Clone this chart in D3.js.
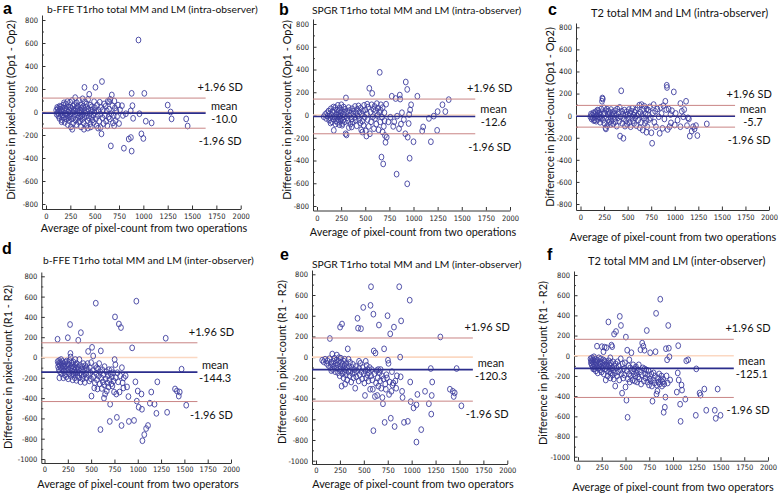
<!DOCTYPE html>
<html><head><meta charset="utf-8">
<script src="https://cdn.jsdelivr.net/npm/d3@7"></script>
<style>body{margin:0;background:#fff}svg{display:block}</style>
</head><body>
<svg id="chart" width="778" height="494"></svg>
<script>
// ---------------- DATA ----------------
const panelLetters = ["a","b","c","d","e","f"];
const panelTitles = [
  "b-FFE T1rho total MM and LM (intra-observer)",
  "SPGR T1rho total MM and LM (intra-observer)",
  "T2 total MM and LM (intra-observer)",
  "b-FFE T1rho total MM and LM (inter-observer)",
  "SPGR T1rho total MM and LM (inter-observer)",
  "T2 total MM and LM (inter-observer)"
];
const yAxisTitles = [
  "Difference in pixel-count (Op1 - Op2)","Difference in pixel-count (Op1 - Op2)","Difference in pixel-count (Op1 - Op2)",
  "Difference in pixel-count (R1 - R2)","Difference in pixel-count (R1 - R2)","Difference in pixel-count (R1 - R2)"
];
const xAxisTitles = [
  "Average of pixel-count from two operations","Average of pixel-count from two operations","Average of pixel-count from two operations",
  "Average of pixel-count from two operators","Average of pixel-count from two operators","Average of pixel-count from two operators"
];
const xTickValues = [0,250,500,750,1000,1250,1500,1750,2000];
const yTickIntra = [-800,-600,-400,-200,0,200,400,600,800];
const yTickInter = [-1000,-800,-600,-400,-200,0,200,400,600,800];
const meanDiff = [-10.0,-12.6,-5.7,-144.3,-120.3,-125.1];
const upperLoA = [121,140,93,145,185,163];
const lowerLoA = [-141,-165,-104,-434,-425,-413];
const loaLabelUpper = "+1.96 SD", loaLabelLower = "-1.96 SD", meanLabel = "mean";

const ptsA = [[105,15],[110,-20],[115,40],[118,-5],[122,30],[128,-35],[132,10],[138,-55],[142,25],[147,-15],[152,45],[156,-40],[160,5],[165,-70],[170,30],[174,-25],[178,60],[183,-50],[188,10],[192,-90],[196,35],[200,-10],[185,80],[160,-85],[140,50],
[204,70],[208,-60],[212,20],[216,-30],[220,90],[224,-110],[228,0],[232,45],[236,-75],[240,15],[244,-45],[248,85],[252,-20],[256,-130],[260,30],[264,-60],[268,100],[272,-5],[276,50],[280,-95],[284,20],[288,-40],[292,65],[296,-15],[300,125],[210,-20],[230,-50],[250,40],[270,-150],[290,5],
[304,-70],[308,30],[312,-110],[316,80],[320,-25],[324,10],[328,-55],[332,45],[336,-85],[340,100],[344,-10],[348,20],[352,-40],[356,60],[360,-130],[364,0],[368,35],[372,-65],[376,115],[380,-20],[384,50],[388,-95],[392,15],[396,-45],[400,90],[320,50],[350,-80],[370,-30],[390,-150],[395,214],
[404,-10],[408,40],[412,-120],[416,70],[420,-35],[424,5],[428,-75],[432,110],[436,25],[440,-50],[444,154],[448,-15],[452,60],[456,-100],[460,15],[464,-40],[470,45],[476,-70],[482,20],[488,-25],[494,90],[498,-5],[430,-140],[460,-130],[490,-90],
[503,35],[508,215],[512,-60],[516,5],[520,-120],[525,60],[530,-30],[535,-140],[540,15],[546,-80],[552,85],[558,-20],[564,40],[570,-190],[575,265],[580,-50],[586,20],[592,-100],[597,70],[560,-135],
[605,-30],[612,50],[618,-80],[624,10],[630,-120],[636,95],[642,-45],[648,25],[655,-60],[660,110],[666,-295],[670,-15],[676,148],[682,55],[688,-95],[695,-30],[702,95],[708,35],[714,-75],[722,10],[730,-40],[740,60],[750,-100],[760,20],[650,90],[700,-120],
[780,55],[790,-30],[800,-315],[820,-15],[850,-235],[872,-222],[880,-340],[880,162],[888,55],[895,-55],[870,10],[950,626],[960,-15],[980,-190],[1000,-230],[1010,162],[1025,-80],[1085,-95],[1250,60],[1280,0],[1290,-60],[1440,-60],[1455,-122]];

const ptsB = [[70,-15],[85,5],[95,-30],[105,20],[112,-10],[120,35],[126,-45],[132,10],[138,-25],[144,55],[150,-5],[156,-60],[162,25],[168,-35],[174,-135],[178,40],[184,-15],[190,65],[196,-50],[200,10],[140,-70],[170,70],[190,-80],
[204,-20],[208,45],[212,-65],[216,85],[220,0],[224,-40],[228,30],[232,-85],[236,60],[240,-10],[244,-55],[248,20],[252,90],[256,-30],[260,40],[264,-75],[268,5],[272,-45],[276,70],[280,-15],[284,25],[288,-60],[292,50],[296,-165],[300,150],[306,-175],[230,-15],[260,-90],
[310,-25],[316,30],[322,-50],[328,65],[334,-5],[340,40],[346,-80],[352,15],[358,-35],[364,55],[370,-60],[376,10],[382,35],[388,-20],[394,75],[400,-45],[406,20],[412,-95],[418,50],[424,-10],[430,80],[436,-40],[442,25],[448,-70],[330,-110],[360,-105],
[452,60],[458,-130],[464,5],[470,-55],[476,35],[482,-90],[488,85],[494,-20],[500,45],[506,-140],[512,-185],[518,10],[524,-40],[530,70],[536,-100],[542,235],[548,-165],[554,25],[560,-60],[566,90],[572,190],[578,-15],[584,50],[590,-120],[596,75],[520,95],[470,-150],
[602,-30],[608,40],[614,-80],[620,100],[626,-5],[632,60],[638,-130],[644,25],[650,375],[656,-60],[662,90],[668,-370],[674,-20],[680,65],[686,-430],[692,-100],[698,20],[704,-180],[710,-240],[716,95],[722,-195],[700,-50],[680,-150],[660,40],
[740,-60],[760,-20],[775,165],[790,-100],[800,-60],[815,145],[825,-520],[830,-10],[850,-120],[858,175],[862,140],[870,-80],[880,20],[900,-40],[915,-165],[920,290],[935,225],[935,-605],[940,-195],[950,-75],[955,5],[960,-380],[965,45],[975,90],[1000,-235],[1040,165],
[1090,-140],[1100,-105],[1160,-30],[1180,-235],[1210,-10],[1245,-135],[1250,30],[1300,90],[1330,30],[1365,135]];

const ptsC = [[105,-10],[112,15],[118,-30],[124,5],[130,-20],[136,25],[142,-45],[148,10],[154,-15],[160,35],[166,-50],[172,0],[178,20],[184,-35],[190,45],[196,-10],[202,25],[208,-60],[214,5],[220,60],[224,-25],[228,130],[232,160],[236,150],[240,-40],[245,15],[250,70],[150,-40],[180,50],[210,-20],
[255,-70],[260,20],[265,-110],[270,45],[275,-15],[280,60],[285,-90],[290,10],[295,-35],[300,40],[306,-60],[312,25],[318,-15],[324,55],[330,-45],[336,0],[342,30],[348,-75],[354,15],[360,-25],[366,45],[372,-55],[378,5],[384,-95],[390,60],[396,-20],[270,-120],[320,-80],
[404,30],[410,-50],[416,75],[420,-185],[426,-10],[432,225],[438,40],[444,-70],[450,15],[455,-205],[460,-30],[466,50],[472,-95],[478,5],[484,-45],[490,35],[496,-80],[502,10],[508,-25],[514,55],[520,-60],[526,20],[532,-100],[538,40],[544,-15],[550,65],[556,-45],[562,5],[568,-70],[574,30],[580,-20],[586,50],[592,-90],[598,0],
[605,70],[612,-40],[618,15],[624,95],[630,-110],[636,30],[642,-60],[648,100],[654,0],[660,-130],[666,55],[672,-25],[678,85],[684,-70],[690,20],[696,-45],[702,60],[708,-100],[714,10],[720,50],[728,-35],[736,80],[744,-20],[752,-155],[760,-250],[768,25],[776,100],[784,-60],[792,40],[800,-100],[700,-150],
[815,60],[830,-10],[840,-160],[850,75],[860,20],[870,-115],[880,90],[890,-30],[900,130],[910,55],[915,275],[918,255],[925,-125],[935,60],[945,-100],[955,10],[960,-65],[970,45],[990,215],[1000,-85],[1010,20],[1030,-40],[1060,110],[1075,40],[1090,-10],[1100,55],[1120,130],[1130,-90],[1140,-20],[1150,-30],[1160,-185],[1180,-140],[1195,-100],[1210,-120],[1225,-90],[1240,-180],[1340,-75],[1060,-100]];

const ptsD = [[142,-40],[146,-90],[150,-60],[154,-120],[158,-30],[162,-75],[166,-140],[170,-50],[174,-100],[178,-20],[182,-160],[186,-70],[190,-110],[194,-40],[198,-85],[202,-200],[206,-130],[210,-60],[214,-95],[218,-170],[222,-45],[226,-120],[230,-80],[234,-190],[238,-35],[242,-140],[246,-100],[250,-60],[140,180],[250,195],[160,-200],
[254,-210],[258,-120],[262,-70],[266,-160],[270,-30],[274,325],[278,40],[282,-100],[286,-185],[290,-55],[294,-135],[298,-80],[302,-220],[306,-110],[310,-45],[314,-165],[318,-90],[322,-130],[326,-200],[330,-70],[334,-150],[338,-105],[342,-225],[346,-60],[350,-140],[354,-180],[358,-95],[362,170],[366,-120],[370,-200],[374,-20],[378,-155],[382,-80],[386,-240],[390,245],[394,-115],[398,-170],[280,5],[300,-160],[330,-20],
[404,-90],[408,-210],[412,-140],[416,-60],[420,-180],[426,-115],[432,-245],[438,-80],[444,-160],[450,-200],[456,-120],[462,-60],[468,60],[474,-175],[480,-230],[486,-100],[492,-150],[498,-210],[504,-380],[510,100],[516,-130],[522,15],[528,-190],[534,-300],[540,-250],[546,-80],[550,535],[556,-160],[562,-220],[568,-310],[574,-110],[580,-180],[586,-60],[592,-260],[598,-140],[600,-710],[604,65],[450,-100],[500,-50],[560,-100],
[608,-200],[614,-305],[620,-120],[626,-240],[632,-170],[638,-400],[644,-90],[650,-360],[656,-210],[662,-140],[668,-330],[674,-250],[680,-180],[686,-290],[692,-120],[698,-220],[704,-460],[710,-160],[716,-260],[722,-190],[728,-280],[734,-150],[740,-230],[746,-340],[752,-20],[756,400],[760,-70],[764,-200],[770,-360],[776,-590],[782,-150],[790,-240],[798,330],[805,-340],[812,-180],[820,295],[826,-670],[830,-100],[838,-250],[846,-300],[850,-200],[700,-630],[640,-270],[720,-120],
[870,-180],[885,-290],[900,-385],[905,-630],[940,95],[960,-620],[975,-240],[985,555],[990,-430],[1000,-330],[1010,-490],[1040,-360],[1045,-510],[1050,-820],[1070,-760],[1090,-700],[1110,-670],[1130,-450],[1145,-340],[1180,-460],[1200,-550],[1210,-240],[1300,190],[1315,-540],[1400,-310],[1420,-330],[1440,-380],[1450,-340],[1470,-115],[1520,-470]];

const ptsE = [[65,-30],[80,-45],[95,-20],[110,-60],[120,-35],[130,-80],[140,-15],[145,180],[150,-100],[158,-50],[165,-70],[170,30],[176,-120],[182,-40],[188,-90],[194,-10],[200,-140],[206,-60],[212,-105],[218,20],[224,-75],[230,-150],[236,-40],[242,-115],[248,-180],[160,-130],[215,-30],[240,-5],
[252,290],[256,-90],[260,-130],[264,-50],[268,-280],[272,320],[276,-160],[280,-70],[284,-110],[288,-200],[292,-40],[296,-140],[300,-80],[304,-260],[308,-120],[312,-170],[316,-60],[320,-100],[326,-220],[332,80],[338,-140],[344,-90],[350,-180],[356,-50],[362,-130],[368,-240],[374,-100],[380,-160],[386,-70],[392,-200],[398,-120],[260,-10],[300,-20],[340,-20],
[404,-150],[410,-300],[416,-90],[422,-190],[428,-130],[434,375],[440,280],[446,-230],[452,-110],[458,-170],[464,-60],[470,275],[476,-140],[482,-210],[488,-100],[494,480],[500,-160],[506,-250],[512,-370],[518,-130],[524,-200],[530,-80],[536,-170],[542,-120],[548,-230],[554,-150],[560,-100],[566,-310],[570,500],[576,-180],[582,-120],[588,-220],[594,-310],[600,415],[604,60],[450,-40],[520,-40],
[610,-160],[616,-380],[622,40],[628,-250],[634,-130],[640,-370],[646,-200],[652,-280],[658,310],[664,-150],[670,-230],[676,-120],[682,-300],[688,-180],[694,-390],[700,-450],[706,-210],[712,80],[718,-630],[724,-260],[730,-310],[736,-170],[742,-200],[748,400],[752,-30],[758,-60],[764,-360],[770,-240],[776,225],[782,-590],[788,-330],[794,-140],[800,-270],[808,-250],[815,290],[822,-670],[830,-230],[838,-300],[846,-180],[600,-710],[650,-120],
[870,680],[880,0],[885,-190],[890,350],[900,-330],[905,-390],[920,-630],[960,-620],[980,550],[985,-240],[990,-430],[1020,-490],[1050,-460],[1050,-820],[1060,-360],[1100,-700],[1140,-330],[1180,-450],[1200,-110],[1205,-550],[1210,-370],[1215,-240],[1300,195],[1400,-310],[1430,-330],[1450,-345],[1440,-380],[1470,-110],[1520,-470],[575,680]];

const ptsF = [[132,-30],[136,-70],[140,-50],[144,-90],[148,-20],[152,-60],[156,-110],[160,-40],[164,-80],[168,-10],[172,-130],[176,-55],[180,-95],[184,-35],[188,-150],[192,-70],[196,-115],[200,95],[204,-45],[208,-170],[212,-85],[216,-125],[220,-20],[224,-100],[228,-60],[232,-140],[236,-80],[240,-30],[244,-110],[248,-160],[160,-130],
[252,90],[256,-70],[260,-120],[264,-40],[268,40],[272,-180],[276,-90],[280,85],[284,-130],[288,-60],[292,-240],[296,-100],[300,80],[304,-150],[308,-75],[312,-200],[316,-110],[320,335],[324,-50],[328,-160],[332,-90],[336,-130],[340,-220],[344,-70],[348,-170],[352,105],[356,-120],[360,90],[364,-190],[368,-60],[372,-140],[376,-230],[380,215],[384,-100],[388,-170],[392,-300],[396,-80],[400,240],[280,-50],[340,-20],
[404,-120],[410,-200],[416,-60],[422,-160],[428,-100],[434,-240],[440,390],[446,-140],[452,300],[458,-180],[464,-370],[470,-80],[476,-220],[482,-130],[488,-190],[494,-70],[500,-310],[504,185],[510,-440],[514,-150],[518,55],[522,-610],[526,-230],[532,-100],[538,-180],[544,-260],[550,-120],[556,-200],[562,30],[568,-150],[574,-240],[580,-90],[586,-180],[592,-130],[598,-250],[450,-30],[540,-40],
[604,-200],[610,-110],[616,-170],[622,-260],[628,-140],[634,-210],[640,-90],[646,-230],[652,-160],[658,60],[664,-280],[670,-190],[676,125],[682,-120],[688,95],[694,-250],[700,55],[706,-180],[712,-220],[718,-140],[724,250],[730,-260],[736,-190],[742,-150],[748,-290],[754,-230],[760,30],[766,-250],[772,-180],[778,-300],[784,-450],[790,-240],[796,-170],[700,-130],
[804,-270],[810,-200],[816,40],[822,420],[826,-380],[830,-290],[836,-350],[842,-220],[848,-260],[854,-180],[860,-280],[866,560],[872,-240],[878,-200],[884,-300],[890,-260],[896,-230],[902,-560],[908,-280],[914,-510],[920,-410],[926,70],[932,-200],[938,-40],[944,-270],[950,300],[956,75],[962,-10],[970,-240],
[1040,-360],[1050,-170],[1055,100],[1060,-240],[1075,-480],[1080,-650],[1090,-290],[1095,-340],[1130,-430],[1140,-50],[1160,-40],[1240,-590],[1245,-130],[1280,-370],[1290,-390],[1330,-330],[1350,-540],[1440,-540],[1450,-620],[1470,-330],[1500,-590]];

const panelPoints = [ptsA, ptsB, ptsC, ptsD, ptsE, ptsF];
const panelYTicks = [yTickIntra, yTickIntra, yTickIntra, yTickInter, yTickInter, yTickInter];

// ---------------- LAYOUT (pixel geometry per panel) ----------------
const layout = [
  {left:42,  x0:46,  x2000:240.7, axisY:209,   top:15,  yLoPx:204,   yHiPx:20,    pad:5, letter:[3,14],   title:[47,13],   titleSize:10.3, yLab:[11,110],  xLab:[144,232]},
  {left:313, x0:317, x2000:510,   axisY:210.5, top:19,  yLoPx:206,   yHiPx:24,    pad:5, letter:[279,15], title:[312,14],  titleSize:10.3, yLab:[287,110], xLab:[413,236]},
  {left:576, x0:580.5,x2000:769,  axisY:210,   top:23,  yLoPx:204,   yHiPx:27.3,  pad:5, letter:[548,15], title:[591,17],  titleSize:11,   yLab:[550,117], xLab:[673,241]},
  {left:41.3,x0:44.5,x2000:231,   axisY:463,   top:272, yLoPx:459,   yHiPx:276.3, pad:4, letter:[2,254],  title:[43,264],  titleSize:10.3, yLab:[8,367],   xLab:[138,488]},
  {left:312, x0:316, x2000:507.3, axisY:464,   top:270, yLoPx:460.7, yHiPx:274.3, pad:4, letter:[280,260],title:[312,268], titleSize:10.3, yLab:[282,362], xLab:[413,488]},
  {left:574, x0:578, x2000:768,   axisY:460.7, top:271, yLoPx:456.7, yHiPx:275,   pad:4, letter:[547,260],title:[588,265], titleSize:11,   yLab:[543,363], xLab:[673,491]}
];
const lineEndX = 1640, loaLabelX = 1790, meanLabelX = 1830;

// ---------------- DRAW ----------------
const svg = d3.select("#chart");
const txtFont = "Lato, 'Open Sans', sans-serif";
const tickFont = "'Liberation Sans Narrow','DejaVu Sans Condensed','Liberation Sans',sans-serif";
const plain = d => String(d);

layout.forEach((L, i) => {
  const yT = panelYTicks[i];
  const xBase = d3.scaleLinear().domain([0, 2000]).range([L.x0, L.x2000]);
  const x = d3.scaleLinear().domain([xBase.invert(L.left), 2000]).range([L.left, L.x2000]);
  const yBase = d3.scaleLinear().domain([yT[0], yT[yT.length-1]]).range([L.yLoPx, L.yHiPx]);
  const y = d3.scaleLinear().domain([yBase.invert(L.axisY), yBase.invert(L.top)]).range([L.axisY, L.top]);
  const g = svg.append("g");

  // minor y ticks
  const minors = [];
  for (let k = 0; k < yT.length - 1; k++) minors.push((yT[k] + yT[k+1]) / 2);
  g.append("g").attr("transform", `translate(${L.left},0)`)
    .call(d3.axisLeft(y).tickValues(minors).tickSize(-2).tickSizeOuter(0).tickFormat(""))
    .call(s => s.select(".domain").remove())
    .selectAll("line").attr("stroke", "#444");

  const ya = g.append("g").attr("transform", `translate(${L.left},0)`)
    .call(d3.axisLeft(y).tickValues(yT).tickFormat(plain).tickSize(-3.5).tickSizeOuter(0).tickPadding(4));
  const xa = g.append("g").attr("transform", `translate(0,${L.axisY})`)
    .call(d3.axisBottom(x).tickValues(xTickValues).tickFormat(plain).tickSize(-3.5).tickSizeOuter(0).tickPadding(L.pad));
  [ya, xa].forEach(a => {
    a.selectAll("path,line").attr("stroke", "#333").attr("stroke-width", 1);
    a.selectAll("text").attr("font-family", tickFont).attr("font-size", 7.5).attr("fill", "#222");
  });

  // zero line
  g.append("line").attr("x1", L.left).attr("x2", x(lineEndX)).attr("y1", y(0)).attr("y2", y(0))
    .attr("stroke", "#fbd8c2").attr("stroke-width", 1.6);

  // points
  g.append("g").selectAll("ellipse").data(panelPoints[i]).join("ellipse")
    .attr("cx", d => x(d[0])).attr("cy", d => y(d[1]))
    .attr("rx", 2.4).attr("ry", 2.9)
    .attr("fill", "none").attr("stroke", "#3f3f9f").attr("stroke-width", 0.9);

  // limits and mean
  [[upperLoA[i], "#c98585", 1], [lowerLoA[i], "#c98585", 1], [meanDiff[i], "#2b2d8c", 1.6]].forEach(([v, c, w]) => {
    g.append("line").attr("x1", L.left).attr("x2", x(lineEndX)).attr("y1", y(v)).attr("y2", y(v))
      .attr("stroke", c).attr("stroke-width", w);
  });

  const lab = (tx, ty, s) => g.append("text").attr("x", tx).attr("y", ty)
    .attr("text-anchor", "middle").attr("font-family", txtFont).attr("font-size", 11)
    .attr("fill", "#111").text(s);
  lab(x(loaLabelX), y(upperLoA[i]) - 7, loaLabelUpper);
  lab(x(meanLabelX), y(meanDiff[i]) - 3, meanLabel);
  lab(x(meanLabelX), y(meanDiff[i]) + 10, d3.format(".1f")(meanDiff[i]).replace("\u2212", "-"));
  lab(x(loaLabelX), y(lowerLoA[i]) + 17, loaLabelLower);

  // letter, title, axis titles
  g.append("text").attr("x", L.letter[0]).attr("y", L.letter[1])
    .attr("font-family", "'Liberation Sans', Arial, sans-serif").attr("font-weight", "bold")
    .attr("font-size", 16).attr("fill", "#000").text(panelLetters[i]);
  g.append("text").attr("x", L.title[0]).attr("y", L.title[1])
    .attr("font-family", txtFont).attr("font-size", L.titleSize).attr("fill", "#111").text(panelTitles[i]);
  g.append("text").attr("transform", `translate(${L.yLab[0]},${L.yLab[1]}) rotate(-90)`)
    .attr("text-anchor", "middle").attr("dy", "0.35em")
    .attr("font-family", txtFont).attr("font-size", 11).attr("fill", "#111").text(yAxisTitles[i]);
  g.append("text").attr("x", L.xLab[0]).attr("y", L.xLab[1]).attr("text-anchor", "middle")
    .attr("font-family", txtFont).attr("font-size", 10.8).attr("fill", "#111").text(xAxisTitles[i]);
});
</script>
</body></html>
